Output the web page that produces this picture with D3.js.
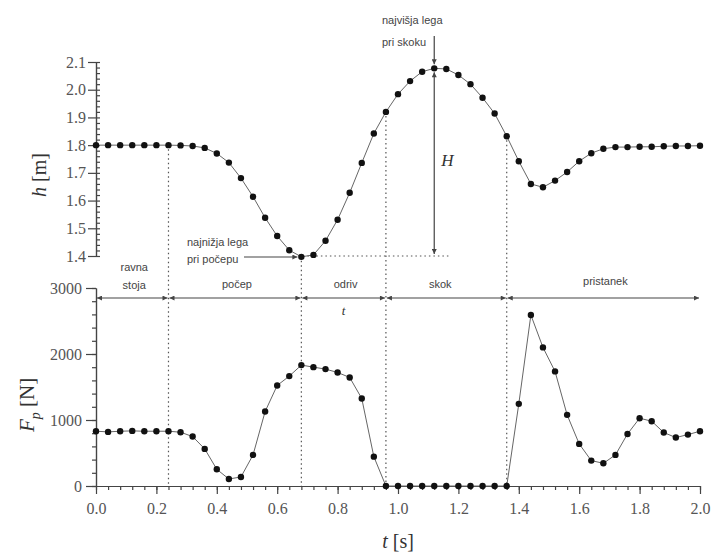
<html>
<head>
<script src="https://d3js.org/d3.v7.min.js"></script>
<style>
body { margin: 0; background: #fff; }
.axis path, .axis line { stroke: #444; stroke-width: 1.2px; }
.curve { fill: none; stroke: #666; stroke-width: 1px; }
.guide { stroke: #555; stroke-width: 1.2px; stroke-dasharray: 1.5,3; fill: none; }
.note { font-family: "Liberation Sans", Arial, sans-serif; font-size: 11px; fill: #444; }
.arrow { stroke: #444; stroke-width: 1.2px; fill: none; }
.title { font-family: "Liberation Serif", serif; fill: #333; }
</style>
</head>
<body>
<div id="chart"></div>
<script>

// time samples [s]
var time = [0.00, 0.04, 0.08, 0.12, 0.16, 0.20, 0.24, 0.28, 0.32, 0.36,
            0.40, 0.44, 0.48, 0.52, 0.56, 0.60, 0.64, 0.68, 0.72, 0.76,
            0.80, 0.84, 0.88, 0.92, 0.96, 1.00, 1.04, 1.08, 1.12, 1.16,
            1.20, 1.24, 1.28, 1.32, 1.36, 1.40, 1.44, 1.48, 1.52, 1.56,
            1.60, 1.64, 1.68, 1.72, 1.76, 1.80, 1.84, 1.88, 1.92, 1.96, 2.00];

// height of centre of mass h [m]
var height = [1.800, 1.800, 1.800, 1.800, 1.800, 1.800, 1.800, 1.799, 1.797, 1.790,
              1.770, 1.737, 1.681, 1.614, 1.538, 1.472, 1.421, 1.397, 1.404, 1.455,
              1.531, 1.628, 1.736, 1.842, 1.920, 1.984, 2.031, 2.065, 2.077, 2.075,
              2.053, 2.020, 1.971, 1.914, 1.832, 1.742, 1.660, 1.648, 1.672, 1.703,
              1.742, 1.771, 1.787, 1.793, 1.793, 1.794, 1.794, 1.796, 1.797, 1.797, 1.798];

// ground reaction force Fp [N]
var force = [830, 820, 830, 835, 830, 830, 830, 815, 749, 562,
             253, 106, 137, 471, 1128, 1523, 1665, 1832, 1801, 1771,
             1720, 1645, 1326, 445, 0, 0, 0, 0, 0, 0,
             0, 0, 0, 0, 0, 1245, 2591, 2100, 1736, 1078,
             638, 385, 344, 471, 789, 1027, 982, 810, 734, 779, 830];

// phase boundaries [s] and names
var phaseEdges = [0, 0.24, 0.68, 0.96, 1.36, 2.0];
var phaseNames = [["ravna", "stoja"], ["počep"], ["odriv"], ["skok"], ["pristanek"]];

// tick labels
var xTicks = [0.0, 0.2, 0.4, 0.6, 0.8, 1.0, 1.2, 1.4, 1.6, 1.8, 2.0];
var hTicks = [1.4, 1.5, 1.6, 1.7, 1.8, 1.9, 2.0, 2.1];
var fTicks = [0, 1000, 2000, 3000];

var data = time.map(function(t, i) { return {t: t, h: height[i], f: force[i]}; });

var svg = d3.select("#chart").append("svg")
  .attr("width", 714)
  .attr("height", 554);

var defs = svg.append("defs");
defs.append("marker")
  .attr("id", "head")
  .attr("viewBox", "0 0 10 10")
  .attr("refX", 10).attr("refY", 5)
  .attr("markerWidth", 7).attr("markerHeight", 5)
  .attr("markerUnits", "userSpaceOnUse")
  .attr("orient", "auto-start-reverse")
  .append("path")
  .attr("d", "M0,0L10,5L0,10Z")
  .attr("fill", "#444");

// scales
var x = d3.scaleLinear().domain([0, 2]).range([96, 700]);
var yH = d3.scaleLinear().domain([1.4, 2.1]).range([256, 62]);
var yF = d3.scaleLinear().domain([0, 3000]).range([486, 288]);

function serifTicks(g) {
  g.selectAll("text")
    .style("font-family", "'Liberation Serif', 'Times New Roman', serif")
    .style("font-size", "16px")
    .style("fill", "#555");
}

// x axis (bottom panel)
svg.append("g")
  .attr("class", "axis")
  .attr("transform", "translate(0," + yF(0) + ")")
  .call(d3.axisBottom(x).tickValues(d3.range(0, 2.001, 0.04)).tickSize(4).tickFormat("").tickSizeOuter(0));
svg.append("g")
  .attr("class", "axis")
  .attr("transform", "translate(0," + yF(0) + ")")
  .call(d3.axisBottom(x).tickValues(xTicks).tickSize(8).tickPadding(9).tickFormat(d3.format(".1f")).tickSizeOuter(0))
  .call(serifTicks);

// h axis (top panel)
svg.append("g")
  .attr("class", "axis")
  .attr("transform", "translate(" + x(0) + ",0)")
  .call(d3.axisRight(yH).tickValues(d3.range(1.4, 2.1001, 0.02)).tickSize(4).tickFormat("").tickSizeOuter(0));
svg.append("g")
  .attr("class", "axis")
  .attr("transform", "translate(" + x(0) + ",0)")
  .call(d3.axisLeft(yH).tickValues(hTicks).tickSize(8).tickPadding(2).tickFormat(d3.format(".1f")).tickSizeOuter(0))
  .call(serifTicks);

// F axis (bottom panel)
svg.append("g")
  .attr("class", "axis")
  .attr("transform", "translate(" + x(0) + ",0)")
  .call(d3.axisLeft(yF).tickValues(d3.range(0, 3001, 200)).tickSize(4).tickFormat("").tickSizeOuter(0));
svg.append("g")
  .attr("class", "axis")
  .attr("transform", "translate(" + x(0) + ",0)")
  .call(d3.axisLeft(yF).tickValues(fTicks).tickSize(10).tickPadding(4).tickFormat(d3.format("d")).tickSizeOuter(0))
  .call(serifTicks);

// dotted phase boundaries from h curve down to the time axis
phaseEdges.slice(1, 5).forEach(function(t) {
  var d = data.find(function(p) { return Math.abs(p.t - t) < 1e-6; });
  svg.append("line")
    .attr("class", "guide")
    .attr("x1", x(t)).attr("x2", x(t))
    .attr("y1", yH(d.h) + 4).attr("y2", yF(0));
});

// dotted line at lowest position
svg.append("line")
  .attr("class", "guide")
  .attr("x1", x(0.70)).attr("x2", x(1.17))
  .attr("y1", yH(1.4)).attr("y2", yH(1.4));

// curves
var lineH = d3.line().x(function(d) { return x(d.t); }).y(function(d) { return yH(d.h); });
var lineF = d3.line().x(function(d) { return x(d.t); }).y(function(d) { return yF(d.f); });

svg.append("path").datum(data).attr("class", "curve").attr("d", lineH);
svg.append("path").datum(data).attr("class", "curve").attr("d", lineF);

svg.selectAll(".dotH")
  .data(data)
  .enter().append("circle")
  .attr("class", "dotH")
  .attr("cx", function(d) { return x(d.t); })
  .attr("cy", function(d) { return yH(d.h); })
  .attr("r", 3.2)
  .attr("fill", "#111");

svg.selectAll(".dotF")
  .data(data)
  .enter().append("circle")
  .attr("class", "dotF")
  .attr("cx", function(d) { return x(d.t); })
  .attr("cy", function(d) { return yF(d.f); })
  .attr("r", 3.2)
  .attr("fill", "#111");

// phase arrows and labels
var arrowY = 298;
for (var i = 0; i < phaseNames.length; i++) {
  var a = phaseEdges[i], b = phaseEdges[i + 1];
  svg.append("line")
    .attr("class", "arrow")
    .attr("x1", x(a) + 1).attr("x2", x(b) - 1)
    .attr("y1", arrowY).attr("y2", arrowY)
    .attr("marker-start", "url(#head)")
    .attr("marker-end", "url(#head)");
  var names = phaseNames[i];
  names.forEach(function(n, k) {
    svg.append("text")
      .attr("class", "note")
      .attr("text-anchor", "middle")
      .attr("x", x((a + b) / 2) + (i == 3 ? -6 : 2))
      .attr("y", names.length == 2 ? 271 + k * 18 : (i == 4 ? 285 : 288))
      .text(n);
  });
}

// t label under odriv
svg.append("text")
  .attr("class", "title")
  .attr("x", x(0.82)).attr("y", 315)
  .attr("text-anchor", "middle")
  .style("font-size", "13px").style("font-style", "italic")
  .text("t");

// H arrow
var tTop = 1.12;
svg.append("line")
  .attr("class", "arrow")
  .attr("x1", x(tTop)).attr("x2", x(tTop))
  .attr("y1", yH(2.077) + 4).attr("y2", yH(1.4) - 2)
  .attr("marker-start", "url(#head)")
  .attr("marker-end", "url(#head)");
svg.append("text")
  .attr("class", "title")
  .attr("x", x(tTop) + 7).attr("y", 166)
  .style("font-size", "17px").style("font-style", "italic")
  .text("H");

// highest position note
svg.append("text").attr("class", "note").attr("x", 382).attr("y", 24).text("najvišja lega");
svg.append("text").attr("class", "note").attr("x", 382).attr("y", 46).text("pri skoku");
svg.append("line")
  .attr("class", "arrow")
  .attr("x1", x(tTop)).attr("x2", x(tTop))
  .attr("y1", 36).attr("y2", yH(2.077) - 4)
  .attr("marker-end", "url(#head)");

// lowest position note
svg.append("text").attr("class", "note").attr("x", 187).attr("y", 246).text("najnižja lega");
svg.append("text").attr("class", "note").attr("x", 187).attr("y", 263).text("pri počepu");
svg.append("line")
  .attr("class", "arrow")
  .attr("x1", 244).attr("x2", x(0.68) - 4)
  .attr("y1", 257).attr("y2", 257)
  .attr("marker-end", "url(#head)");

// axis titles
var th = svg.append("text")
  .attr("class", "title")
  .attr("transform", "translate(46,175) rotate(-90)")
  .attr("text-anchor", "middle")
  .style("font-size", "20px");
th.append("tspan").style("font-style", "italic").text("h");
th.append("tspan").text(" [m]");

var tf = svg.append("text")
  .attr("class", "title")
  .attr("transform", "translate(34,405) rotate(-90)")
  .attr("text-anchor", "middle")
  .style("font-size", "21px");
tf.append("tspan").style("font-style", "italic").text("F");
tf.append("tspan").style("font-style", "italic").style("font-size", "14px").attr("dy", 6).text("p");
tf.append("tspan").attr("dy", -6).text(" [N]");

var tt = svg.append("text")
  .attr("class", "title")
  .attr("x", x(1.0)).attr("y", 548)
  .attr("text-anchor", "middle")
  .style("font-size", "20px");
tt.append("tspan").style("font-style", "italic").text("t");
tt.append("tspan").text(" [s]");

</script>
</body>
</html>
